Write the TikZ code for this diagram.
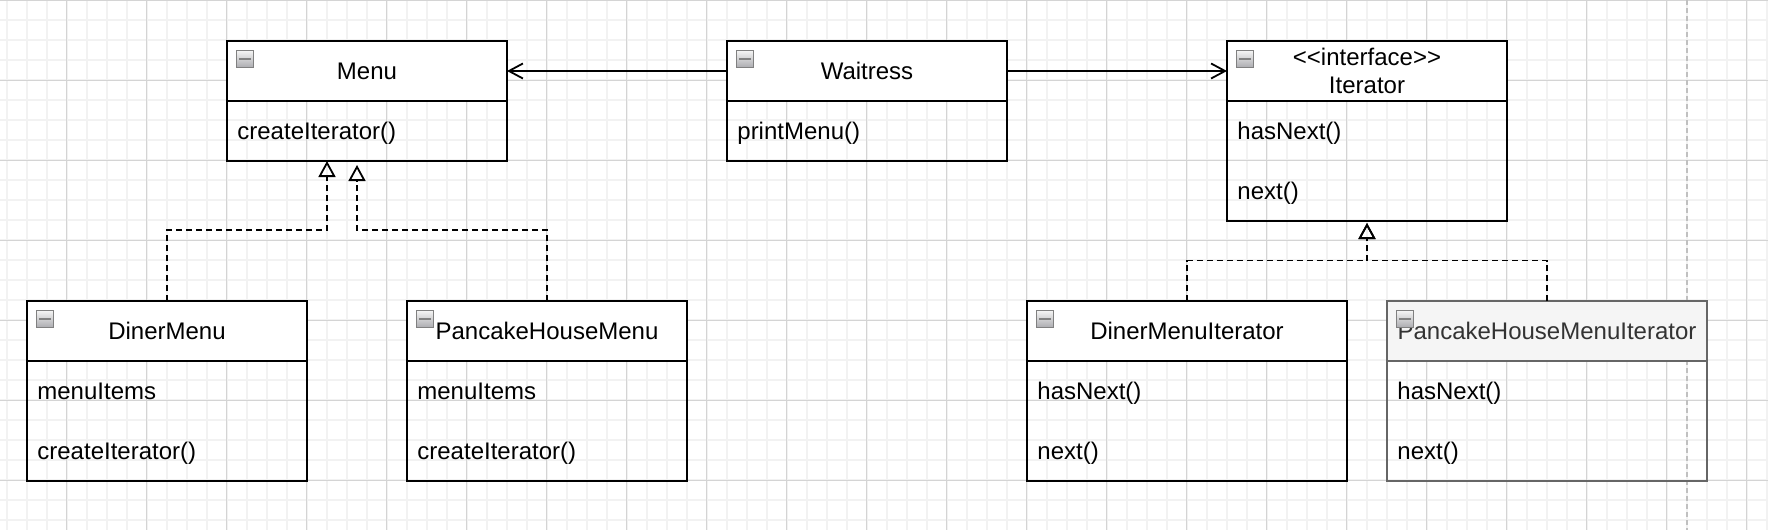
\documentclass[tikz,border=0pt]{standalone}
\usepackage{fontspec}
\newfontfamily\umlfont{Liberation Sans}
\usetikzlibrary{positioning,arrows.meta}

\definecolor{gridminor}{HTML}{F2F2F2}
\definecolor{gridmajor}{HTML}{D4D4D4}
\definecolor{pagebreak}{HTML}{C0C0C0}
\definecolor{btnborder}{HTML}{808080}
\definecolor{btntop}{HTML}{F4F4F4}
\definecolor{btnbottom}{HTML}{ACACB0}
\definecolor{mutedfill}{HTML}{F5F5F5}
\definecolor{mutedline}{HTML}{666666}
\definecolor{mutedtext}{HTML}{333333}

\tikzset{
  umltext/.style={font=\umlfont\fontsize{12pt}{14.4pt}\selectfont},
  classhead/.style={umltext, draw, fill=white, line width=0.9pt, outer sep=0pt, inner sep=0pt,
    minimum width=140pt, minimum height=30pt, align=center},
  classbody/.style={draw, line width=0.9pt, outer sep=0pt, inner sep=0pt,
    minimum width=140pt, minimum height=30pt},
  member/.style={umltext, anchor=west, inner sep=0pt, text height=8.6pt, text depth=0pt},
  muted/.style={draw=mutedline, fill=mutedfill, text=mutedtext},
  btn/.style={anchor=north west, draw=btnborder, line width=0.5pt, top color=btntop, bottom color=btnbottom,
    minimum size=8.4pt, inner sep=0pt, outer sep=0pt,
    path picture={\draw[line width=1.3pt] ([xshift=1.3pt]path picture bounding box.west)
      -- ([xshift=-1pt]path picture bounding box.east);}},
  assoc/.style={-{Straight Barb[length=7pt,width=7.5pt]}, line width=0.9pt},
  realize/.style={-{Triangle[open,length=8pt,width=8.5pt]}, line width=0.9pt, dash pattern=on 3pt off 2pt},
}

\begin{document}
\begin{tikzpicture}

    \useasboundingbox (0,0) rectangle (884pt,-265pt);

    % Background grid and page break
    \draw[gridminor, line width=0.7pt, xshift=3.4pt, step=10pt] (-3.4pt,0) grid (880.6pt,-265pt);
    \draw[gridmajor, line width=0.5pt, xshift=33.4pt, step=40pt] (-33.4pt,0) grid (850.6pt,-265pt);
    \draw[pagebreak, line width=0.9pt, dash pattern=on 2.5pt off 1.5pt] (843.4pt,0) -- (843.4pt,-265pt);

    % Define nodes
    \node[classhead]                              (menu) at (183.5pt,-35.5pt) {Menu};
    \node[classbody, below=0pt of menu]           (menu-b) {};
    \node[classhead, right=110pt of menu]         (waitress) {Waitress};
    \node[classbody, below=0pt of waitress]       (waitress-b) {};
    \node[classhead, right=110pt of waitress]     (iterator) {<\kern0pt<interface>\kern0pt>\\Iterator};
    \node[classbody, below=0pt of iterator, minimum height=60pt] (iterator-b) {};

    \node[classhead]                              (dinermenu) at (83.5pt,-165.5pt) {DinerMenu};
    \node[classbody, below=0pt of dinermenu, minimum height=60pt] (dinermenu-b) {};
    \node[classhead, right=50pt of dinermenu]     (pancakemenu) {PancakeHouseMenu};
    \node[classbody, below=0pt of pancakemenu, minimum height=60pt] (pancakemenu-b) {};
    \node[classhead, right=170pt of pancakemenu, minimum width=160pt] (dineriter) {DinerMenuIterator};
    \node[classbody, below=0pt of dineriter, minimum width=160pt, minimum height=60pt] (dineriter-b) {};
    \node[classhead, muted, right=20pt of dineriter, minimum width=160pt] (pancakeiter) {PancakeHouseMenuIterator};
    \node[classbody, draw=mutedline, below=0pt of pancakeiter, minimum width=160pt, minimum height=60pt] (pancakeiter-b) {};

    % Members
    \node[member] (menu-m1)        at ([shift={(5pt,-15pt)}]menu-b.north west) {createIterator()};
    \node[member] (waitress-m1)    at ([shift={(5pt,-15pt)}]waitress-b.north west) {printMenu()};
    \node[member] (iterator-m1)    at ([shift={(5pt,-15pt)}]iterator-b.north west) {hasNext()};
    \node[member] (iterator-m2)    at ([shift={(5pt,-45pt)}]iterator-b.north west) {next()};
    \node[member] (dinermenu-m1)   at ([shift={(5pt,-15pt)}]dinermenu-b.north west) {menuItems};
    \node[member] (dinermenu-m2)   at ([shift={(5pt,-45pt)}]dinermenu-b.north west) {createIterator()};
    \node[member] (pancakemenu-m1) at ([shift={(5pt,-15pt)}]pancakemenu-b.north west) {menuItems};
    \node[member] (pancakemenu-m2) at ([shift={(5pt,-45pt)}]pancakemenu-b.north west) {createIterator()};
    \node[member] (dineriter-m1)   at ([shift={(5pt,-15pt)}]dineriter-b.north west) {hasNext()};
    \node[member] (dineriter-m2)   at ([shift={(5pt,-45pt)}]dineriter-b.north west) {next()};
    \node[member] (pancakeiter-m1) at ([shift={(5pt,-15pt)}]pancakeiter-b.north west) {hasNext()};
    \node[member] (pancakeiter-m2) at ([shift={(5pt,-45pt)}]pancakeiter-b.north west) {next()};

    % Collapse buttons
    \node[btn] (menu-btn)        at ([shift={(4.8pt,-4.8pt)}]menu.north west) {};
    \node[btn] (waitress-btn)    at ([shift={(4.8pt,-4.8pt)}]waitress.north west) {};
    \node[btn] (iterator-btn)    at ([shift={(4.8pt,-4.8pt)}]iterator.north west) {};
    \node[btn] (dinermenu-btn)   at ([shift={(4.8pt,-4.8pt)}]dinermenu.north west) {};
    \node[btn] (pancakemenu-btn) at ([shift={(4.8pt,-4.8pt)}]pancakemenu.north west) {};
    \node[btn] (dineriter-btn)   at ([shift={(4.8pt,-4.8pt)}]dineriter.north west) {};
    \node[btn] (pancakeiter-btn) at ([shift={(4.8pt,-4.8pt)}]pancakeiter.north west) {};

    % Connect the nodes
    \draw[assoc] (waitress) -- (menu);
    \draw[assoc] (waitress) -- (iterator);
    \draw[realize] (dinermenu.north) -- ++(0,35.5pt) -| ([xshift=-20pt]menu-b.south);
    \draw[realize] (pancakemenu.north) -- ++(0,35.5pt) -| ([xshift=-5pt,yshift=-2pt]menu-b.south);
    \draw[realize] (dineriter.north) -- ++(0,20.25pt) -| ([yshift=-1pt]iterator-b.south);
    \draw[realize] (pancakeiter.north) -- ++(0,20.25pt) -| ([yshift=-1pt]iterator-b.south);

\end{tikzpicture}
\end{document}
